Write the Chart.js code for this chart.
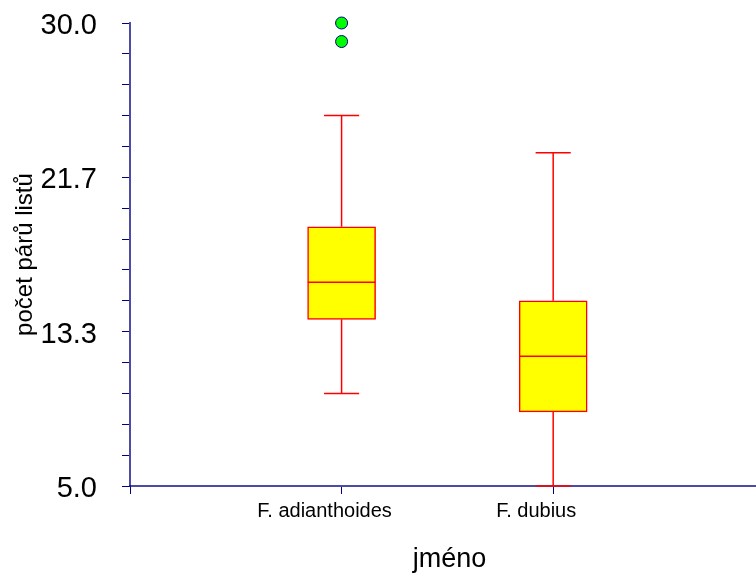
<!DOCTYPE html>
<html>
<head>
<meta charset="utf-8">
<script src="https://cdn.jsdelivr.net/npm/chart.js@4"></script>
<style>
  html, body { margin: 0; padding: 0; background: #fff; overflow: hidden; }
  #wrap { width: 756px; height: 576px; overflow: hidden; }
</style>
</head>
<body>
<div id="wrap"><canvas id="chart" width="776" height="576"></canvas></div>
<script>
  // box plot values
  const categories = ["F. adianthoides", "F. dubius"];
  const categoryPos = [1, 2];
  const whiskerLow = [10, 5];
  const q1 = [14, 9];
  const median = [16, 12];
  const q3 = [19, 15];
  const whiskerHigh = [25, 23];
  const outliers = [[30, 29], []];

  const yMin = 5;
  const yMax = 30;
  const yTickCount = 16; // minor ticks, a label on every 5th
  const xMin = 0;
  const xMax = 3.02; // plot runs a bit past the right edge of the picture
  const xTicks = [0, 1, 2];

  const RED = "#ff0000";
  const AXIS = "rgba(0,0,128,0.7)";
  const TICK = "#000080";
  const FONT = "'Liberation Sans', Arial, sans-serif";
  const BOX_HALF = 0.16;
  const CAP_HALF = 0.083;

  function seg(x0, y0, x1, y1) {
    return {
      type: "line",
      data: [{ x: x0, y: y0 }, { x: x1, y: y1 }],
      borderColor: RED,
      borderWidth: 1.5,
      pointRadius: 0,
      clip: false,
      order: 1
    };
  }

  const datasets = [];
  datasets.push({
    type: "scatter",
    data: outliers.flatMap((vals, i) => vals.map((v) => ({ x: categoryPos[i], y: v }))),
    backgroundColor: "#00ff00",
    borderColor: "#000080",
    borderWidth: 1,
    pointRadius: 6,
    clip: false,
    order: 0
  });
  categoryPos.forEach((x, i) => {
    datasets.push(seg(x - BOX_HALF, median[i], x + BOX_HALF, median[i]));
    datasets.push(seg(x, whiskerLow[i], x, q1[i]));
    datasets.push(seg(x, q3[i], x, whiskerHigh[i]));
    datasets.push(seg(x - CAP_HALF, whiskerLow[i], x + CAP_HALF, whiskerLow[i]));
    datasets.push(seg(x - CAP_HALF, whiskerHigh[i], x + CAP_HALF, whiskerHigh[i]));
  });
  datasets.push({
    type: "bar",
    data: categoryPos.map((x, i) => ({ x, y: [q1[i], q3[i]] })),
    backgroundColor: "#ffff00",
    borderColor: RED,
    borderWidth: 1.5,
    borderSkipped: false,
    barThickness: 68,
    order: 2
  });

  new Chart(document.getElementById("chart"), {
    type: "bar",
    data: { datasets },
    options: {
      responsive: false,
      animation: false,
      layout: { padding: { top: 23, right: 0, bottom: 0, left: 0 } },
      plugins: { legend: { display: false }, tooltip: { enabled: false } },
      scales: {
        x: {
          type: "linear",
          min: xMin,
          max: xMax,
          offset: false,
          afterBuildTicks: (s) => { s.ticks = xTicks.map((v) => ({ value: v })); },
          afterFit: (s) => {
            s.height = 90;
            s.paddingLeft = 0;
            s.paddingRight = 0;
          },
          grid: { drawOnChartArea: false, tickLength: 8, color: TICK, lineWidth: 1, offset: false },
          border: { color: AXIS, width: 2 },
          ticks: {
            callback: (v) => {
              const i = categoryPos.indexOf(v);
              return i >= 0 ? categories[i] : "";
            },
            padding: 5,
            labelOffset: -17,
            maxRotation: 0,
            autoSkip: false,
            color: "#000",
            font: { family: FONT, size: 20 }
          },
          title: {
            display: true,
            text: "jméno",
            color: "#000",
            font: { family: FONT, size: 27 },
            padding: { top: 0, bottom: 0 }
          }
        },
        y: {
          min: yMin,
          max: yMax,
          afterBuildTicks: (s) => {
            s.ticks = Array.from({ length: yTickCount }, (_, i) => ({
              value: yMin + (i * (yMax - yMin)) / (yTickCount - 1)
            }));
          },
          afterFit: (s) => {
            s.width = 130;
            s.paddingTop = 0;
            s.paddingBottom = 0;
          },
          grid: { drawOnChartArea: false, tickLength: 8, color: TICK, lineWidth: 1 },
          border: { color: AXIS, width: 2 },
          ticks: {
            callback: (v, i) => (i % 5 === 0 ? Number(v).toFixed(1) : ""),
            padding: 25,
            labelOffset: 3,
            autoSkip: false,
            color: "#000",
            font: { family: FONT, size: 29 }
          },
          title: {
            display: true,
            text: "počet párů listů",
            color: "#000",
            font: { family: FONT, size: 24 },
            padding: { top: 11, bottom: 0 }
          }
        }
      }
    }
  });
</script>
</body>
</html>
